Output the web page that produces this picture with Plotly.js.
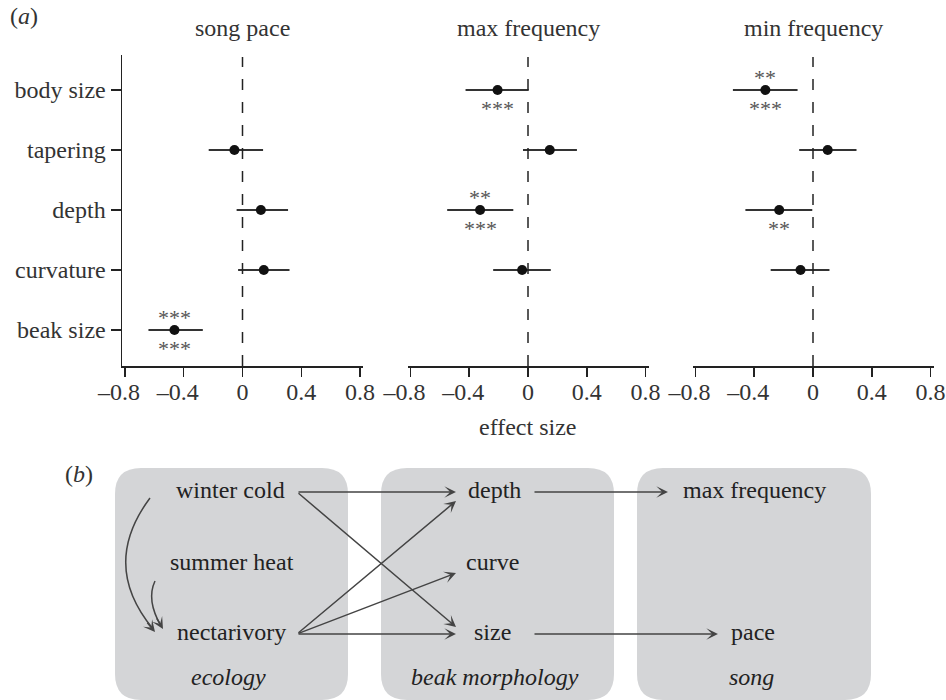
<!DOCTYPE html>
<html>
<head>
<meta charset="utf-8">
<script src="https://cdn.plot.ly/plotly-3.0.1.min.js"></script>
<style>html,body{margin:0;padding:0;background:#fff;}#chart{width:946px;height:700px;}</style>
</head>
<body>
<div id="chart"></div>
<script>
// ---------- data ----------
const categories = ['body size', 'tapering', 'depth', 'curvature', 'beak size'];
const xTickVals = [-0.8, -0.4, 0, 0.4, 0.8];
const xTickText = ['\u20130.8\u2002', '\u20130.4\u2002', '0', '0.4', '0.8'];
const panelTitles = ['song pace', 'max frequency', 'min frequency'];

const songPaceEst = [null, -0.055, 0.125, 0.145, -0.463];
const songPaceLo  = [null, -0.23, -0.04, -0.03, -0.64];
const songPaceHi  = [null, 0.14, 0.31, 0.32, -0.27];
const songPaceStarsAbove = ['', '', '', '', '***'];
const songPaceStarsBelow = ['', '', '', '', '***'];

const maxFreqEst = [-0.207, 0.148, -0.326, -0.04, null];
const maxFreqLo  = [-0.425, -0.034, -0.55, -0.237, null];
const maxFreqHi  = [0.005, 0.333, -0.10, 0.155, null];
const maxFreqStarsAbove = ['', '', '**', '', ''];
const maxFreqStarsBelow = ['***', '', '***', '', ''];

const minFreqEst = [-0.324, 0.10, -0.23, -0.085, null];
const minFreqLo  = [-0.545, -0.094, -0.46, -0.288, null];
const minFreqHi  = [-0.105, 0.296, -0.005, 0.112, null];
const minFreqStarsAbove = ['**', '', '', '', ''];
const minFreqStarsBelow = ['***', '', '**', '', ''];

// diagram content
const groupLabels = ['ecology', 'beak morphology', 'song'];
const diagramNodes = ['winter cold', 'summer heat', 'nectarivory', 'depth', 'curve', 'size', 'max frequency', 'pace'];
const diagramEdges = [
  ['winter cold', 'depth'], ['winter cold', 'size'],
  ['nectarivory', 'depth'], ['nectarivory', 'curve'], ['nectarivory', 'size'],
  ['depth', 'max frequency'], ['size', 'pace']
];
const curvedEdges = [['winter cold', 'nectarivory'], ['summer heat', 'nectarivory']];

// ---------- layout helpers ----------
const W = 946, H = 700;
const FONT = 'Liberation Serif';
const TXT = '#333333';
const px = v => v / W;
const py = v => 1 - v / H;

const panels = [
  {est: songPaceEst, lo: songPaceLo, hi: songPaceHi, above: songPaceStarsAbove, below: songPaceStarsBelow, x0: 122},
  {est: maxFreqEst, lo: maxFreqLo, hi: maxFreqHi, above: maxFreqStarsAbove, below: maxFreqStarsBelow, x0: 407.5},
  {est: minFreqEst, lo: minFreqLo, hi: minFreqHi, above: minFreqStarsAbove, below: minFreqStarsBelow, x0: 692.5}
];
const panelW = 241;
const yTop = 55, yBot = 366;
const yRange = [5.6, 0.4167];
const rows = categories.map((c, i) => i + 1);

const traces = [];
const annotations = [];
const shapes = [];
const layout = {
  width: W, height: H,
  margin: {l: 0, r: 0, t: 0, b: 0},
  paper_bgcolor: '#ffffff', plot_bgcolor: 'rgba(0,0,0,0)',
  showlegend: false,
  font: {family: FONT, size: 24, color: TXT},
  annotations: annotations, shapes: shapes
};

function label(xref, yref, x, y, text, extra) {
  return Object.assign({xref: xref, yref: yref, x: x, y: y, text: text, showarrow: false,
    xanchor: 'center', yanchor: 'middle', font: {family: FONT, size: 24, color: TXT}}, extra || {});
}

panels.forEach((p, k) => {
  const xa = k === 0 ? 'x' : 'x' + (k + 1);
  const ya = k === 0 ? 'y' : 'y' + (k + 1);
  const xKey = k === 0 ? 'xaxis' : 'xaxis' + (k + 1);
  const yKey = k === 0 ? 'yaxis' : 'yaxis' + (k + 1);
  layout[xKey] = {
    domain: [px(p.x0), px(p.x0 + panelW)], range: [-0.82, 0.82], anchor: ya,
    showgrid: false, zeroline: false, showline: true, linecolor: '#222', linewidth: 1.5,
    ticks: 'outside', ticklen: 9, tickwidth: 1.5, tickcolor: '#222', ticklabelstandoff: -5,
    tickvals: xTickVals, ticktext: xTickText, tickfont: {family: FONT, size: 24, color: TXT},
    fixedrange: true
  };
  layout[yKey] = {
    domain: [py(yBot), py(yTop)], range: yRange, anchor: xa,
    showgrid: false, zeroline: false, fixedrange: true,
    showline: k === 0, linecolor: '#222', linewidth: 1.5,
    ticks: k === 0 ? 'outside' : '', ticklen: 10, tickwidth: 1.5, tickcolor: '#222',
    tickvals: rows, ticktext: categories, showticklabels: k === 0,
    tickfont: {family: FONT, size: 24, color: TXT}
  };
  shapes.push({type: 'line', xref: xa, yref: ya, x0: 0, x1: 0, y0: yRange[0], y1: 0.45,
    line: {color: '#222', width: 1.5, dash: '11px,12px'}});
  traces.push({
    type: 'scatter', mode: 'markers', xaxis: xa, yaxis: ya,
    x: p.est, y: rows,
    error_x: {type: 'data', symmetric: false,
      array: p.est.map((v, i) => v === null ? null : p.hi[i] - v),
      arrayminus: p.est.map((v, i) => v === null ? null : v - p.lo[i]),
      width: 0, thickness: 2, color: '#333'},
    marker: {size: 10, color: '#111'},
    hoverinfo: 'skip'
  });
  const starFont = {family: FONT, size: 22, color: '#555555'};
  rows.forEach((r, i) => {
    if (p.above[i]) annotations.push(label(xa, ya, p.est[i], r, p.above[i], {yshift: 12, font: starFont}));
    if (p.below[i]) annotations.push(label(xa, ya, p.est[i], r, p.below[i], {yshift: -19, font: starFont}));
  });
  annotations.push(label(xa, 'paper', 0, py(28), panelTitles[k]));
});

annotations.push(label('paper', 'paper', px(8), py(16), '(<i>a</i>)', {xanchor: 'left'}));
annotations.push(label('paper', 'paper', px(528), py(427), 'effect size'));
annotations.push(label('paper', 'paper', px(79), py(474), '(<i>b</i>)'));

// ---------- diagram (panel b) in its own pixel-like axes ----------
layout.xaxis4 = {domain: [0, 1], range: [0, W], visible: false, fixedrange: true, anchor: 'y4'};
layout.yaxis4 = {domain: [0, 1], range: [H, 0], visible: false, fixedrange: true, anchor: 'x4'};

const boxes = [[115, 348], [381, 614], [637, 871]];
const boxTop = 468, boxBot = 700, rad = 26;
boxes.forEach(b => {
  const [l, r] = b, t = boxTop, bt = boxBot;
  shapes.push({type: 'path', xref: 'x4', yref: 'y4', layer: 'below',
    path: `M ${l + rad} ${t} L ${r - rad} ${t} Q ${r} ${t} ${r} ${t + rad} L ${r} ${bt - rad} Q ${r} ${bt} ${r - rad} ${bt} ` +
          `L ${l + rad} ${bt} Q ${l} ${bt} ${l} ${bt - rad} L ${l} ${t + rad} Q ${l} ${t} ${l + rad} ${t} Z`,
    fillcolor: '#d4d5d7', line: {width: 0}});
});

const nodePos = {
  'winter cold': [230, 490], 'summer heat': [232, 562], 'nectarivory': [231, 632],
  'depth': [494, 490], 'curve': [492, 562], 'size': [492, 632],
  'max frequency': [754, 490], 'pace': [753, 632]
};
const nodeOut = {'winter cold': 297, 'nectarivory': 297, 'depth': 533, 'size': 533};
const nodeIn = {'depth': 456, 'curve': 456, 'size': 456, 'max frequency': 668, 'pace': 718};
const groupPos = [[228, 677], [495, 677], [751, 677]];

diagramNodes.forEach(n => {
  annotations.push(label('x4', 'y4', nodePos[n][0], nodePos[n][1], n, {font: {family: FONT, size: 24, color: '#222'}}));
});
groupLabels.forEach((g, i) => {
  annotations.push(label('x4', 'y4', groupPos[i][0], groupPos[i][1], '<i>' + g + '</i>', {font: {family: FONT, size: 24, color: '#222'}}));
});

const ARROW = {arrowhead: 3, arrowsize: 1.3, arrowwidth: 1.5, arrowcolor: '#444'};
diagramEdges.forEach(([a, b]) => {
  const y0 = nodePos[a][1] + 2;
  let y1 = nodePos[b][1] + 2;
  if (y1 - y0 > 20) y1 -= 7;
  if (y0 - y1 > 20) y1 += 9;
  annotations.push(Object.assign({xref: 'x4', yref: 'y4', axref: 'x4', ayref: 'y4',
    x: nodeIn[b], y: y1, ax: nodeOut[a], ay: y0, text: '', showarrow: true}, ARROW));
});

const curves = [
  {s: [150, 498], c: [100, 565], e: [155, 632]},
  {s: [155, 581], c: [146, 600], e: [163, 629]}
];
curvedEdges.forEach((edge, i) => {
  const cv = curves[i];
  shapes.push({type: 'path', xref: 'x4', yref: 'y4',
    path: `M ${cv.s[0]} ${cv.s[1]} Q ${cv.c[0]} ${cv.c[1]} ${cv.e[0] - 2} ${cv.e[1] - 3}`,
    line: {color: '#444', width: 1.5}});
  const dx = cv.e[0] - cv.c[0], dy = cv.e[1] - cv.c[1];
  const L = Math.hypot(dx, dy);
  annotations.push(Object.assign({xref: 'x4', yref: 'y4', axref: 'x4', ayref: 'y4',
    x: cv.e[0], y: cv.e[1], ax: cv.e[0] - dx / L * 14, ay: cv.e[1] - dy / L * 14,
    text: '', showarrow: true}, ARROW));
});

traces.push({type: 'scatter', x: [], y: [], xaxis: 'x4', yaxis: 'y4', hoverinfo: 'skip'});

Plotly.newPlot('chart', traces, layout, {displayModeBar: false, staticPlot: true});
</script>
</body>
</html>
